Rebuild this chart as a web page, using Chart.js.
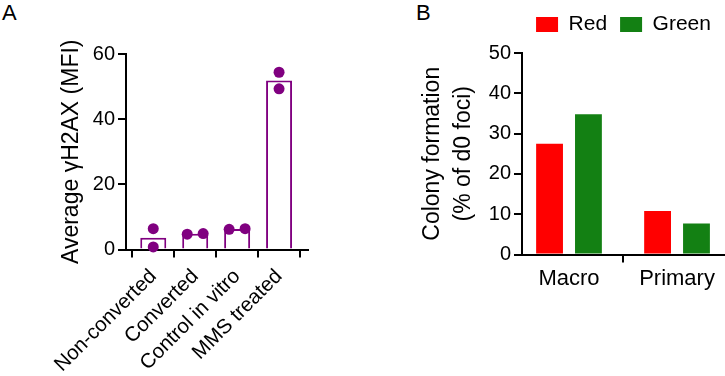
<!DOCTYPE html>
<html>
<head>
<meta charset="utf-8">
<script src="https://cdn.jsdelivr.net/npm/chart.js@4.4.1/dist/chart.umd.min.js"></script>
<style>
  body { margin: 0; background: #fff; width: 725px; height: 376px; position: relative; overflow: hidden; }
  canvas { position: absolute; top: 0; }
  #chartA { left: 0; }
  #chartB { left: 360px; }
  .panel { position: absolute; font-family: "Liberation Sans", Arial, sans-serif; font-size: 22px; color: #000; }
</style>
</head>
<body>
<div class="panel" style="left:2px; top:0px;">A</div>
<div class="panel" style="left:416px; top:0px;">B</div>
<canvas id="chartA" width="370" height="376"></canvas>
<canvas id="chartB" width="365" height="376"></canvas>
<script>
// Panel A data
const categoriesA = ['Non-converted', 'Converted', 'Control in vitro', 'MMS treated'];
const meanA = [3.6, 4.8, 6.3, 51.9];
const rep1A = [6.4, 4.7, 6.2, 54.4];
const rep2A = [0.8, 4.9, 6.4, 49.3];
// horizontal spread of the replicate dots (category units)
const spread1A = [0, -0.19, -0.19, 0];
const spread2A = [0, 0.19, 0.19, 0];
const ticksA = [0, 20, 40, 60];

// Panel B data
const categoriesB = ['Macro', 'Primary'];
const redB = [27.5, 10.8];
const greenB = [34.8, 7.7];
const ticksB = [0, 10, 20, 30, 40, 50];

const purple = '#800080';
Chart.defaults.font.family = 'Liberation Sans, Arial, sans-serif';
Chart.defaults.color = '#000';

function axisStyle() {
    return {
        grid: {
            display: true, drawOnChartArea: false, drawTicks: true, tickLength: 8,
            color: '#000', lineWidth: 2, tickColor: '#000', tickWidth: 2
        },
        border: { display: true, color: '#000', width: 2 }
    };
}

// leave a little room between the legend and the plot
const legendGap = {
    id: 'legendGap',
    afterInit(chart) {
        if (!chart.legend) return;
        const fit = chart.legend.fit;
        chart.legend.fit = function () {
            fit.call(this);
            this.height += 8;
        };
    }
};

// Panel A: hollow bars with replicate dots
const dotsA = [];
categoriesA.forEach((c, i) => {
    dotsA.push({ x: i + spread1A[i], y: rep1A[i] });
    dotsA.push({ x: i + spread2A[i], y: rep2A[i] });
});

new Chart(document.getElementById('chartA'), {
    type: 'bar',
    data: {
        datasets: [
            {
                type: 'scatter',
                data: dotsA,
                backgroundColor: purple,
                borderWidth: 0,
                pointRadius: 5.5,
                clip: false,
                order: 0
            },
            {
                type: 'bar',
                data: meanA.map((v, i) => ({ x: i, y: v })),
                backgroundColor: '#fff',
                borderColor: purple,
                borderWidth: 2,
                barPercentage: 0.62,
                categoryPercentage: 1,
                order: 1
            }
        ]
    },
    options: {
        responsive: false,
        animation: false,
        layout: { padding: { left: 58, top: 54, right: 62, bottom: 0 } },
        plugins: { legend: { display: false }, tooltip: { enabled: false } },
        scales: {
            x: {
                type: 'linear',
                min: -0.65,
                max: 3.69,
                offset: false,
                ...axisStyle(),
                afterBuildTicks: (scale) => { scale.ticks = categoriesA.map((c, i) => ({ value: i })); },
                afterFit: (scale) => { scale.height = 126.5; },
                ticks: {
                    autoSkip: false,
                    minRotation: 45,
                    maxRotation: 45,
                    padding: 7,
                    font: { size: 20.5 },
                    callback: (v) => categoriesA[v]
                }
            },
            y: {
                min: 0,
                max: 60,
                ...axisStyle(),
                afterBuildTicks: (scale) => { scale.ticks = ticksA.map(v => ({ value: v })); },
                afterFit: (scale) => { scale.width = 68; },
                ticks: { padding: 3, font: { size: 20 } },
                title: {
                    display: true,
                    text: 'Average γH2AX (MFI)',
                    font: { size: 23 },
                    padding: 0
                }
            }
        }
    }
});

// Panel B: grouped bars
new Chart(document.getElementById('chartB'), {
    type: 'bar',
    data: {
        datasets: [
            {
                label: 'Red',
                data: redB.map((v, i) => ({ x: i, y: v })),
                backgroundColor: '#ff0000',
                barPercentage: 0.69,
                categoryPercentage: 0.72
            },
            {
                label: 'Green',
                data: greenB.map((v, i) => ({ x: i, y: v })),
                backgroundColor: '#138013',
                barPercentage: 0.69,
                categoryPercentage: 0.72
            }
        ]
    },
    plugins: [legendGap],
    options: {
        responsive: false,
        animation: false,
        layout: { padding: { left: 57, top: 1, right: 0, bottom: 0 } },
        plugins: {
            tooltip: { enabled: false },
            legend: {
                position: 'top',
                align: 'center',
                fullSize: false,
                labels: {
                    boxWidth: 22,
                    boxHeight: 15,
                    padding: 13,
                    font: { size: 21 },
                    color: '#000'
                }
            }
        },
        scales: {
            x: {
                type: 'linear',
                min: -0.435,
                max: 1.444,
                offset: false,
                ...axisStyle(),
                afterBuildTicks: (scale) => { scale.ticks = categoriesB.map((c, i) => ({ value: i })); },
                afterFit: (scale) => { scale.height = 121.5; },
                ticks: {
                    autoSkip: false,
                    maxRotation: 0,
                    padding: 3,
                    font: { size: 22 },
                    callback: (v) => categoriesB[v]
                }
            },
            y: {
                min: 0,
                max: 50,
                ...axisStyle(),
                afterBuildTicks: (scale) => { scale.ticks = ticksB.map(v => ({ value: v })); },
                afterFit: (scale) => { scale.width = 105; },
                ticks: { padding: 3, font: { size: 20 } },
                title: {
                    display: true,
                    text: ['Colony formation', '(% of d0 foci)'],
                    font: { size: 23, lineHeight: 1.35 },
                    padding: 0
                }
            }
        }
    }
});
</script>
</body>
</html>
